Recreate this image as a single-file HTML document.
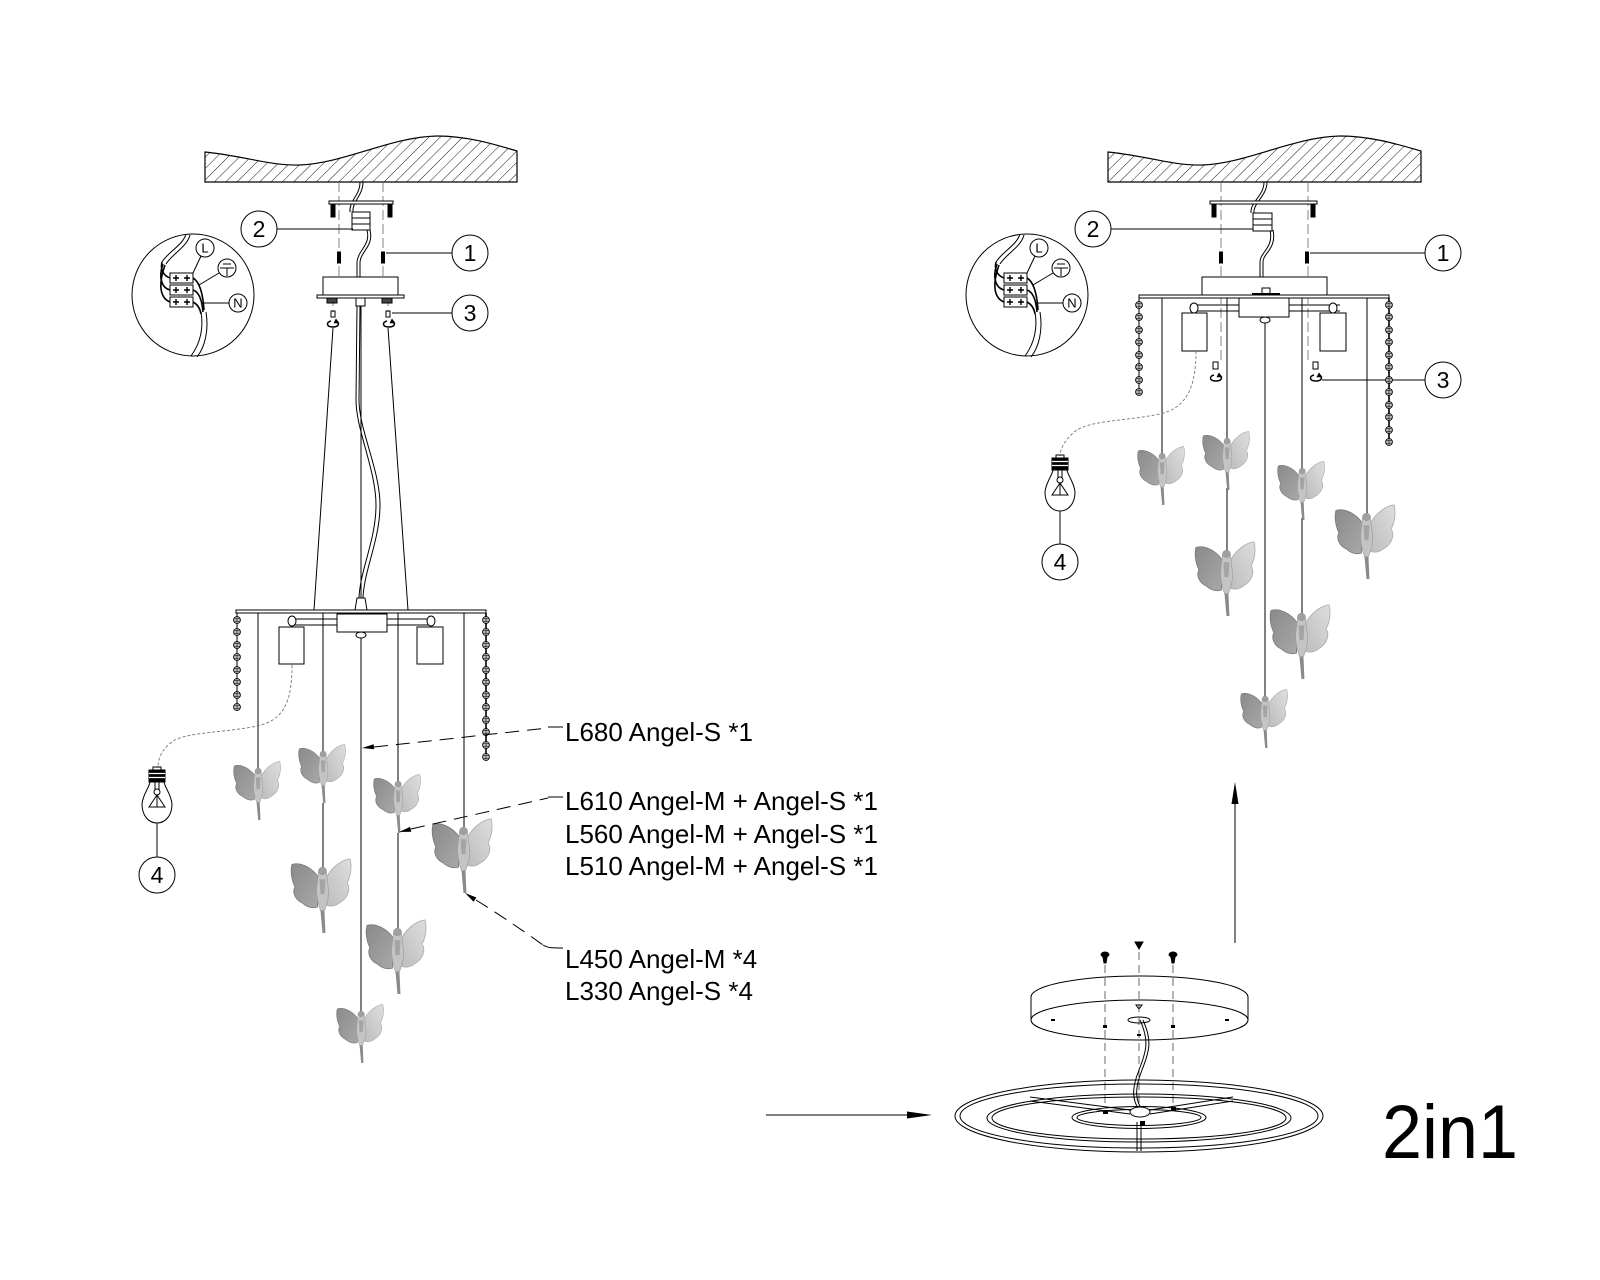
<!DOCTYPE html>
<html><head><meta charset="utf-8"><style>
html,body{margin:0;padding:0;background:#fff;}
svg{display:block;}
text{font-family:"Liberation Sans",Arial,sans-serif;fill:#000;}
</style></head><body>
<svg width="1600" height="1280" viewBox="0 0 1600 1280" xmlns="http://www.w3.org/2000/svg">
<defs>
<pattern id="hatch" patternUnits="userSpaceOnUse" width="8" height="8" patternTransform="rotate(45)">
<line x1="0" y1="0" x2="0" y2="8" stroke="#000" stroke-width="0.9"/>
</pattern>
<linearGradient id="lw" x1="0" y1="0" x2="1" y2="1"><stop offset="0" stop-color="#8a8a8a"/><stop offset="1" stop-color="#a8a8a8"/></linearGradient>
<linearGradient id="rw" x1="1" y1="0" x2="0" y2="1"><stop offset="0" stop-color="#dedede"/><stop offset="1" stop-color="#bdbdbd"/></linearGradient>
<symbol id="ang" viewBox="0 0 65 82" preserveAspectRatio="none">
<path d="M30,22 C24,12 12,5 3,8 C1,16 3,26 6,32 C3,38 6,46 14,50 C18,54 24,56 29,54 Z" fill="url(#lw)" stroke="#777" stroke-width="0.8"/>
<path d="M38,22 C44,10 54,3 62,2 C64,10 63,20 59,28 C63,34 60,44 52,49 C47,53 42,54 38,52 Z" fill="url(#rw)" stroke="#aaa" stroke-width="0.8"/>
<path d="M30,16 C30,12 38,12 38,16 L40,34 C41,44 38,52 36,58 L32,58 C30,52 28,44 28,34 Z" fill="#c4c4c4" stroke="#999" stroke-width="0.6"/>
<path d="M31,24 L37,24 L36,40 L32,40 Z" fill="#a4a4a4"/>
<circle cx="34" cy="15" r="4" fill="#a0a0a0" stroke="#888" stroke-width="0.5"/>
<path d="M32,58 L34,82 L37,82 L36,58 Z" fill="#8a8a8a"/>
</symbol>
<g id="bd"><circle r="3.4" fill="#fff" stroke="#000" stroke-width="0.9"/><path d="M-3.4,0H3.4M0,-3.4V3.4M-2.5,-1.7H2.5M-2.5,1.7H2.5" stroke="#000" stroke-width="0.6"/></g>
<g id="bulb" fill="none" stroke="#000" stroke-width="1">
<rect x="-4" y="-3" width="8" height="3"/>
<rect x="-8" y="0" width="16" height="12" fill="#000"/>
<path d="M-8,3.5H8M-8,7.5H8" stroke="#fff" stroke-width="1.2"/>
<path d="M-7,12 C-8,18 -14,24 -15,34 C-15,46 -8,53 0,53 C8,53 15,46 15,34 C14,24 8,18 7,12"/>
<path d="M-2,12 L-2,20 M2,12 L2,20"/>
<circle cx="0" cy="22" r="3"/>
<path d="M0,25 L-8,37 L8,37 Z M0,25 L0,37"/>
</g>
<g id="hook" fill="none" stroke="#000" stroke-width="1.5">
<path d="M-2,-3 C-7,-2 -7,3 0,3 C5,3 7,0 4,-2"/>
<path d="M3,-5 L6,-1 L1,-1 Z" fill="#000" stroke-width="0.6"/>
</g>
<g id="det" fill="none" stroke="#000" stroke-width="1">
<circle cx="193" cy="295" r="61"/>
<path d="M186,234 C183,245 168,252 162,262"/>
<path d="M190,235 C187,247 172,254 166,264"/>
<path d="M162,262 C160,270 164,276 170,278" stroke-width="1.6"/>
<path d="M163,264 C158,278 162,288 170,290" stroke-width="1.6"/>
<path d="M165,265 C158,285 160,298 170,302" stroke-width="1.6"/>
<rect x="170" y="273" width="23" height="10" fill="#fff"/>
<rect x="170" y="285" width="23" height="10" fill="#fff"/>
<rect x="170" y="297" width="23" height="10" fill="#fff"/>
<path d="M173,278H179M176,275V281M184,278H190M187,275V281M173,290H179M176,287V293M184,290H190M187,287V293M173,302H179M176,299V305M184,302H190M187,299V305" stroke-width="1.4"/>
<path d="M193,278 C200,282 203,295 204,310" stroke-width="1.6"/>
<path d="M193,290 C199,292 202,300 203,312" stroke-width="1.6"/>
<path d="M193,302 C197,304 200,308 201,314" stroke-width="1.6"/>
<path d="M201,312 C204,330 199,345 191,356"/>
<path d="M206,312 C209,330 205,347 197,357"/>
<circle cx="205" cy="248" r="9"/>
<line x1="201" y1="256" x2="193" y2="273"/>
<circle cx="227" cy="268" r="9"/>
<path d="M223,264H231M220,268H234M227,268V276"/>
<line x1="219" y1="273" x2="199" y2="285"/>
<circle cx="238" cy="303" r="9"/>
<line x1="203" y1="303" x2="229" y2="303"/>
</g>
</defs>
<rect width="1600" height="1280" fill="#fff"/>

<!-- ================= LEFT FIGURE ================= -->
<path d="M205,152 C245,156 270,166 300,165 C345,163 390,137 437,136 C470,136 500,146 517,151 L517,182 L205,182 Z" fill="url(#hatch)" stroke="#000" stroke-width="1.2"/>

<g fill="none" stroke="#000" stroke-width="1">
<path d="M339,182V277M383,182V277M333,296V312M388,296V312" stroke="#666" stroke-width="0.8" stroke-dasharray="10 4"/>
<path d="M360,182 C360,196 349,200 350,212"/><path d="M363,182 C363,196 352,201 353,212"/>
<path d="M367,230 C371,245 358,250 357,262 L357,277"/><path d="M370,230 C374,246 361,251 360,262 L360,277"/>
<rect x="352" y="212" width="18" height="6" fill="#fff"/><rect x="352" y="218" width="18" height="6" fill="#fff"/><rect x="352" y="224" width="18" height="6" fill="#fff"/>
<rect x="329" y="201" width="64" height="3" fill="#fff"/>
<rect x="331" y="204" width="4" height="13" fill="#000"/><rect x="388" y="204" width="4" height="13" fill="#000"/>
<rect x="337.5" y="252" width="3" height="11" fill="#000"/><rect x="381.5" y="252" width="3" height="11" fill="#000"/>
<rect x="323" y="277" width="75" height="19" fill="#fff"/>
<rect x="317" y="295" width="87" height="3" fill="#fff"/>
<rect x="327" y="298" width="10" height="5" fill="#444"/><rect x="382" y="298" width="10" height="5" fill="#444"/><rect x="356" y="298" width="9" height="8"/>
<rect x="331" y="311" width="4" height="6"/><rect x="386" y="311" width="4" height="6"/>
<line x1="277" y1="229" x2="353" y2="229"/>
<line x1="386" y1="253" x2="452" y2="253"/>
<line x1="392" y1="313" x2="452" y2="313"/>
<line x1="333" y1="328" x2="314" y2="610"/>
<line x1="388" y1="328" x2="408" y2="610"/>
<line x1="361" y1="306" x2="361" y2="598"/>
<path d="M357,306 L356,400 C356,430 376,470 376,505 C376,540 360,570 359,598"/>
<path d="M360,306 L359,400 C359,430 380,470 380,505 C380,540 364,570 363,598"/>
<path d="M357,598 L365,598 L367,610 L355,610 Z" fill="#fff"/>
<rect x="236" y="610" width="250" height="3" fill="#fff"/>
<path d="M293,619H337M293,625H337M387,619H430M387,625H430"/>
<ellipse cx="292" cy="621" rx="4" ry="5" fill="#fff"/><ellipse cx="431" cy="621" rx="4" ry="5" fill="#fff"/>
<rect x="337" y="614" width="50" height="18" fill="#fff"/>
<ellipse cx="361" cy="635" rx="5" ry="3" fill="#fff"/>
<rect x="279" y="627" width="25" height="37" fill="#fff"/>
<rect x="417" y="627" width="26" height="37" fill="#fff"/>
<path d="M258,613V770M323,613V753M323,803V867M398,613V783M398,833V928M464,613V827M361,638V1013"/>
<line x1="486" y1="613" x2="486" y2="760" stroke-width="1.6"/>
<line x1="237" y1="613" x2="237" y2="708"/>
<path d="M292,665 C292,700 285,720 257,726 C230,732 190,732 175,740 C162,748 158,758 158,768" stroke="#777" stroke-width="0.9" stroke-dasharray="3 2"/>
<line x1="157" y1="823" x2="157" y2="857"/>
</g>
<use href="#hook" x="333" y="324"/><use href="#hook" x="389" y="324"/>
<g>
<use href="#bd" x="237" y="620"/><use href="#bd" x="237" y="632"/><use href="#bd" x="237" y="645"/><use href="#bd" x="237" y="657"/><use href="#bd" x="237" y="670"/><use href="#bd" x="237" y="682"/><use href="#bd" x="237" y="695"/><use href="#bd" x="237" y="707"/>
<use href="#bd" x="486" y="620"/><use href="#bd" x="486" y="632"/><use href="#bd" x="486" y="645"/><use href="#bd" x="486" y="657"/><use href="#bd" x="486" y="670"/><use href="#bd" x="486" y="682"/><use href="#bd" x="486" y="695"/><use href="#bd" x="486" y="707"/><use href="#bd" x="486" y="720"/><use href="#bd" x="486" y="732"/><use href="#bd" x="486" y="745"/><use href="#bd" x="486" y="757"/>
</g>
<use href="#bulb" x="157" y="770"/>
<use href="#det"/>
<text x="205" y="252.5" font-size="13" text-anchor="middle">L</text>
<text x="238" y="307.5" font-size="13" text-anchor="middle">N</text>

<use href="#ang" x="232" y="760" width="50" height="60"/>
<use href="#ang" x="297" y="743" width="50" height="60"/>
<use href="#ang" x="289" y="857" width="64" height="76"/>
<use href="#ang" x="372" y="773" width="50" height="60"/>
<use href="#ang" x="364" y="918" width="64" height="76"/>
<use href="#ang" x="335" y="1003" width="50" height="60"/>
<use href="#ang" x="430" y="817" width="64" height="76"/>

<g fill="#fff" stroke="#000" stroke-width="1">
<circle cx="259" cy="229" r="18"/><circle cx="470" cy="253" r="18"/><circle cx="470" cy="313" r="18"/><circle cx="157" cy="875" r="18"/>
</g>
<g font-size="23" text-anchor="middle">
<text x="259" y="237">2</text><text x="470" y="261">1</text><text x="470" y="321">3</text><text x="157" y="883">4</text>
</g>

<g fill="none" stroke="#000" stroke-width="1">
<path d="M374,747 L548,728" stroke-dasharray="14 8"/>
<path d="M548,727 H563"/>
<path d="M411,829 L548,798" stroke-dasharray="14 8"/>
<path d="M548,797 H563"/>
<path d="M476,900 C500,915 525,932 543,945" stroke-dasharray="14 8"/>
<path d="M543,945 C548,948 552,948 563,948"/>
</g>
<g fill="#000">
<polygon points="362,748 374.2,749.2 373.6,744.2"/>
<polygon points="399,832 411.3,831.7 410.1,826.9"/>
<polygon points="465,893 473.6,901.7 476.4,897.5"/>
</g>
<g font-size="26">
<text x="565" y="741">L680 Angel-S *1</text>
<text x="565" y="810">L610 Angel-M + Angel-S *1</text>
<text x="565" y="843">L560 Angel-M + Angel-S *1</text>
<text x="565" y="875">L510 Angel-M + Angel-S *1</text>
<text x="565" y="968">L450 Angel-M *4</text>
<text x="565" y="1000">L330 Angel-S *4</text>
</g>

<!-- ================= RIGHT FIGURE ================= -->
<path d="M1108,152 C1148,156 1173,166 1203,165 C1248,163 1293,137 1340,136 C1373,136 1403,146 1421,151 L1421,182 L1108,182 Z" fill="url(#hatch)" stroke="#000" stroke-width="1.2"/>
<g fill="none" stroke="#000" stroke-width="1">
<path d="M1221,182V362M1308,182V362" stroke="#666" stroke-width="0.8" stroke-dasharray="10 4"/>
<path d="M1264,182 C1264,196 1250,202 1251,213"/><path d="M1267,182 C1267,196 1253,203 1254,213"/>
<path d="M1270,230 C1274,248 1260,252 1260,262 L1260,277"/><path d="M1273,230 C1277,249 1263,253 1263,262 L1263,277"/>
<rect x="1253" y="213" width="19" height="6" fill="#fff"/><rect x="1253" y="219" width="19" height="6" fill="#fff"/><rect x="1253" y="225" width="19" height="6" fill="#fff"/>
<rect x="1210" y="201" width="107" height="3" fill="#fff"/>
<rect x="1212" y="204" width="4" height="13" fill="#000"/><rect x="1311" y="204" width="4" height="13" fill="#000"/>
<rect x="1219.5" y="252" width="3" height="11" fill="#000"/><rect x="1305.5" y="252" width="3" height="11" fill="#000"/>
<rect x="1202" y="277" width="125" height="19" fill="#fff"/>
<rect x="1139" y="295" width="250" height="3" fill="#fff"/>
<rect x="1262" y="288" width="8" height="7" fill="#fff"/>
<line x1="1252" y1="294" x2="1280" y2="294" stroke-width="2"/>
<path d="M1190,305H1239M1190,311H1239M1289,305H1340M1289,311H1340"/>
<ellipse cx="1194" cy="308" rx="4" ry="5" fill="#fff"/><ellipse cx="1333" cy="308" rx="4" ry="5" fill="#fff"/>
<rect x="1239" y="298" width="50" height="19" fill="#fff"/>
<ellipse cx="1265" cy="320" rx="5" ry="3" fill="#fff"/>
<rect x="1182" y="313" width="25" height="38" fill="#fff"/>
<rect x="1320" y="313" width="26" height="38" fill="#fff"/>
<rect x="1213" y="362" width="5" height="7"/><rect x="1313" y="362" width="5" height="7"/>
<line x1="1111" y1="229" x2="1253" y2="229"/>
<line x1="1310" y1="253" x2="1425" y2="253"/>
<line x1="1322" y1="380" x2="1425" y2="380"/>
<path d="M1162,298V455M1227,298V440M1227,488V550M1265,323V698M1302,298V470M1302,518V613M1367,298V513"/>
<line x1="1389" y1="298" x2="1389" y2="445" stroke-width="1.6"/>
<line x1="1139" y1="298" x2="1139" y2="393"/>
<path d="M1196,351 C1196,390 1185,408 1160,414 C1120,422 1085,420 1072,434 C1063,443 1060,450 1060,456" stroke="#777" stroke-width="0.9" stroke-dasharray="3 2"/>
<line x1="1060" y1="511" x2="1060" y2="544"/>
</g>
<use href="#hook" x="1216" y="378"/><use href="#hook" x="1316" y="378"/>
<g>
<use href="#bd" x="1139" y="305"/><use href="#bd" x="1139" y="317"/><use href="#bd" x="1139" y="330"/><use href="#bd" x="1139" y="342"/><use href="#bd" x="1139" y="355"/><use href="#bd" x="1139" y="367"/><use href="#bd" x="1139" y="380"/><use href="#bd" x="1139" y="392"/>
<use href="#bd" x="1389" y="305"/><use href="#bd" x="1389" y="317"/><use href="#bd" x="1389" y="330"/><use href="#bd" x="1389" y="342"/><use href="#bd" x="1389" y="355"/><use href="#bd" x="1389" y="367"/><use href="#bd" x="1389" y="380"/><use href="#bd" x="1389" y="392"/><use href="#bd" x="1389" y="405"/><use href="#bd" x="1389" y="417"/><use href="#bd" x="1389" y="430"/><use href="#bd" x="1389" y="442"/>
</g>
<use href="#bulb" x="1060" y="458"/>
<use href="#det" transform="translate(834,0)"/>
<text x="1039" y="252.5" font-size="13" text-anchor="middle">L</text>
<text x="1072" y="307.5" font-size="13" text-anchor="middle">N</text>

<use href="#ang" x="1136" y="445" width="50" height="60"/>
<use href="#ang" x="1201" y="430" width="50" height="60"/>
<use href="#ang" x="1193" y="540" width="64" height="76"/>
<use href="#ang" x="1239" y="688" width="50" height="60"/>
<use href="#ang" x="1276" y="460" width="50" height="60"/>
<use href="#ang" x="1268" y="603" width="64" height="76"/>
<use href="#ang" x="1333" y="503" width="64" height="76"/>

<g fill="#fff" stroke="#000" stroke-width="1">
<circle cx="1093" cy="229" r="18"/><circle cx="1443" cy="253" r="18"/><circle cx="1443" cy="380" r="18"/><circle cx="1060" cy="562" r="18"/>
</g>
<g font-size="23" text-anchor="middle">
<text x="1093" y="237">2</text><text x="1443" y="261">1</text><text x="1443" y="388">3</text><text x="1060" y="570">4</text>
</g>

<line x1="1235" y1="943" x2="1235" y2="800" stroke="#000" stroke-width="1"/>
<polygon points="1235,782 1231.5,804 1238.5,804" fill="#000"/>

<line x1="766" y1="1115" x2="910" y2="1115" stroke="#000" stroke-width="1"/>
<polygon points="932,1115 907,1111.5 907,1118.5" fill="#000"/>

<g fill="none" stroke="#000" stroke-width="1">
<path d="M1101,955 C1101,951 1109,951 1109,955 L1107,957 L1106,963 L1104,963 L1103,957 Z" fill="#000"/>
<path d="M1169,955 C1169,951 1177,951 1177,955 L1175,957 L1174,963 L1172,963 L1171,957 Z" fill="#000"/>
<path d="M1135,942 L1143,942 L1139,949 Z" fill="#000"/>
<path d="M1031,997 A108.5,21 0 0 1 1248,997"/>
<path d="M1031,997V1020M1248,997V1020"/>
<ellipse cx="1139.5" cy="1020" rx="108.5" ry="20"/>
<ellipse cx="1139" cy="1020" rx="11" ry="3"/>
<path d="M1136,1005 L1142,1005 L1139,1009 Z"/>
<path d="M1105,965V1108M1139,952V1110M1173,965V1106" stroke="#444" stroke-width="0.8" stroke-dasharray="8 5"/>
<path d="M1140,1020 C1149,1040 1147,1050 1139,1070 C1131,1090 1133,1100 1138,1108"/>
<path d="M1143,1020 C1152,1040 1150,1050 1142,1070 C1134,1090 1136,1100 1141,1108"/>
<ellipse cx="1139" cy="1116" rx="184" ry="36"/>
<ellipse cx="1139" cy="1116" rx="179" ry="32"/>
<ellipse cx="1139" cy="1118" rx="152" ry="24"/>
<ellipse cx="1139" cy="1118" rx="147" ry="21"/>
<ellipse cx="1139" cy="1117.5" rx="67" ry="11"/>
<ellipse cx="1139" cy="1117.5" rx="62" ry="8"/>
<path d="M1130,1110 L1030,1097 M1130,1114 L1030,1101 M1150,1110 L1233,1097 M1150,1114 L1233,1101"/>
<path d="M1137,1122V1151M1141,1122V1151"/>
<ellipse cx="1140" cy="1112" rx="10" ry="5" fill="#fff"/>
</g>
<g fill="#000">
<rect x="1051" y="1019" width="4" height="2"/><rect x="1225" y="1019" width="4" height="2"/>
<rect x="1103" y="1025" width="4" height="3"/><rect x="1171" y="1025" width="4" height="3"/>
<rect x="1137" y="1034" width="4" height="2"/>
<rect x="1103" y="1110" width="5" height="4"/><rect x="1171" y="1107" width="5" height="4"/>
<rect x="1140" y="1121" width="5" height="4"/>
</g>

<text x="1382" y="1158" font-size="76" textLength="136" lengthAdjust="spacingAndGlyphs">2in1</text>
</svg>
</body></html>
